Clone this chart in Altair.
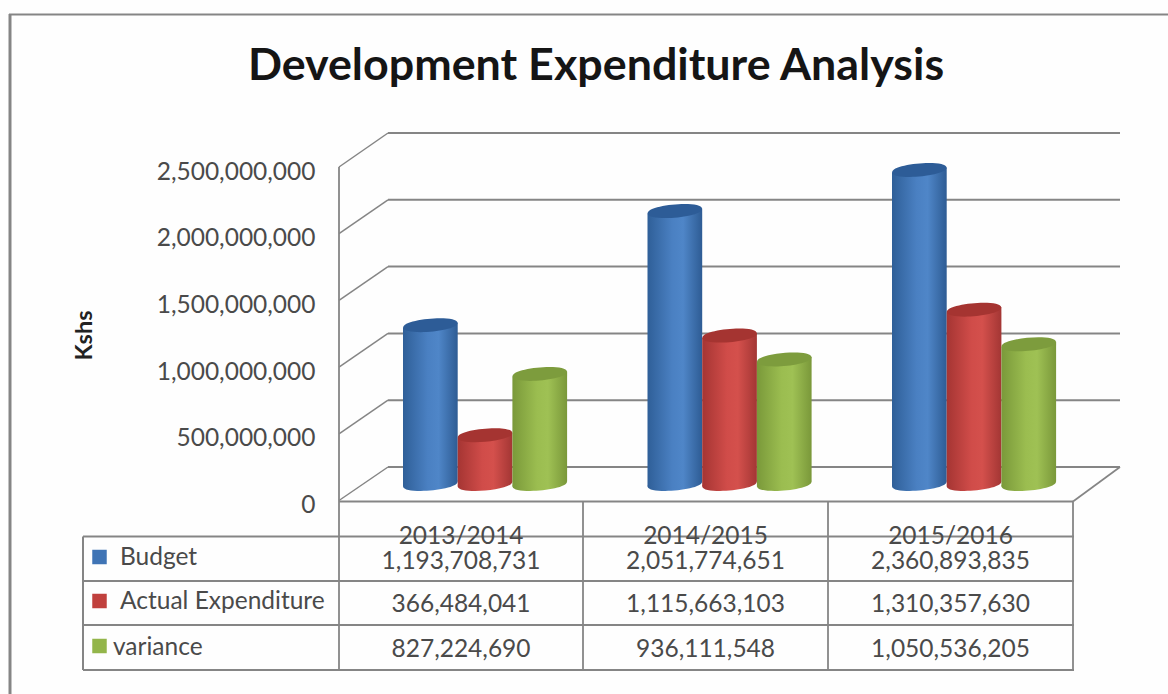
import altair as alt
import pandas as pd

# Chart values
years = ["2013/2014", "2014/2015", "2015/2016"]
series_names = ["Budget", "Actual Expenditure", "variance"]
budget = [1193708731, 2051774651, 2360893835]
actual = [366484041, 1115663103, 1310357630]
variance = [827224690, 936111548, 1050536205]
axis_ticks = [0, 500000000, 1000000000, 1500000000, 2000000000, 2500000000]

W, H = 1168, 694
FONT = "Lato"
TEXT = "#4a4a4a"
LINE = "#858585"

series_values = [budget, actual, variance]
series_body = [
    ["#2f5f98", "#4a80c2", "#4f86c8", "#2e5c94"],
    ["#a53533", "#d04c49", "#d4504c", "#a33634"],
    ["#7a993a", "#9bbd50", "#9fc154", "#7a983a"],
]
series_cap = ["#2d5c97", "#a53431", "#7d9c3d"]
series_swatch = ["#3f74b5", "#c0403d", "#93b54a"]

# Value scales: the cylinders stand mid-depth, the axis sits on the front plane
PX_PER_UNIT = 0.1330e-6
BAR_BASE = 484.0
AXIS_BASE = 500.5
AXIS_PX_PER_UNIT = 333.5 / 2.5e9


def value_scale(base, k):
    return alt.Scale(domain=[(base - H) / k, base / k], range=[H, 0], nice=False, zero=False)


bar_scale = value_scale(BAR_BASE, PX_PER_UNIT)
axis_scale = value_scale(AXIS_BASE, AXIS_PX_PER_UNIT)
x_scale = alt.Scale(domain=[0, W], range=[0, W], nice=False, zero=False)
X_NOAXIS = dict(scale=x_scale, axis=None)

# Cylinder geometry
GROUP_LEFT = [403.0, 647.5, 892.0]
CYL_W = 54.7
TILT_PX = 2.5
tilt_v = TILT_PX / PX_PER_UNIT

# Ellipse as a unit-wide custom symbol
ELLIPSE = "M-1,0C-1,-0.32,1,-0.32,1,0C1,0.32,-1,0.32,-1,0Z"
ELLIPSE_SIZE = (CYL_W) ** 2
ELLIPSE_ANGLE = 355

layers = []

# Outer frame, wall, floor and table rules
rules = []
rules += [(9, 14.5, W, 14.5, 2.2), (10, 14, 10, H, 3)]
wall_ys = [467, 400.2, 333.4, 266.6, 199.8, 133]
front_ys = [AXIS_BASE - AXIS_PX_PER_UNIT * t for t in axis_ticks]
for wy, fy in zip(wall_ys, front_ys):
    rules.append((388, wy, 1120, wy, 2))
    rules.append((339, fy, 388, wy, 1.5))
rules += [(339, front_ys[-1], 339, 670, 1.8)]
rules += [(339, 501.5, 1073, 501.5, 2.2), (1073, 501.5, 1120, 467, 1.7)]
for cx in [583, 828, 1073]:
    rules.append((cx, 501.5, cx, 670, 1.8))
for ry in [536.5, 581, 625, 670]:
    rules.append((83, ry, 1074, ry, 2))
rules.append((83, 536.5, 83, 670, 2))
rules_df = pd.DataFrame(rules, columns=["x1", "y1", "x2", "y2", "w"])

layers.append(
    alt.Chart(rules_df).mark_rule(color=LINE).encode(
        x=alt.X("x1:Q", **X_NOAXIS),
        x2="x2:Q",
        y=alt.Y("y1:Q", scale=None, axis=None),
        y2="y2:Q",
        strokeWidth=alt.StrokeWidth("w:Q", scale=None, legend=None),
    )
)

# Invisible layer that carries the value axis
layers.append(
    alt.Chart(pd.DataFrame({"tick": axis_ticks})).mark_point(opacity=0).encode(
        y=alt.Y(
            "tick:Q",
            scale=axis_scale,
            axis=alt.Axis(
                values=axis_ticks,
                format=",.0f",
                offset=-339,
                labelPadding=24,
                labelOffset=5,
                labelFont=FONT,
                labelFontSize=24.5,
                labelColor=TEXT,
                domain=False,
                ticks=False,
                grid=False,
                title="Kshs",
                titleFont=FONT,
                titleFontSize=23.5,
                titleFontWeight="bold",
                titleColor="#222222",
                titleX=-243,
                titleY=335,
            ),
        ),
    )
)

# Cylinders, series by series
for j, name in enumerate(series_names):
    stops = [
        {"offset": o, "color": c}
        for o, c in zip([0, 0.45, 0.65, 1], series_body[j])
    ]
    gradient = {"gradient": "linear", "x1": 0, "y1": 0, "x2": 1, "y2": 0, "stops": stops}

    centers = [g + CYL_W * j + CYL_W / 2 for g in GROUP_LEFT]
    caps = pd.DataFrame({"year": years, "cx": centers, "value": series_values[j], "zero": 0})

    side_rows = []
    for year, left, v in zip(years, GROUP_LEFT, series_values[j]):
        lx = left + CYL_W * j
        side_rows.append((year, lx, v - tilt_v, -tilt_v))
        side_rows.append((year, lx + CYL_W, v + tilt_v, tilt_v))
    sides = pd.DataFrame(side_rows, columns=["year", "px", "top", "bottom"])

    layers.append(
        alt.Chart(caps).mark_point(
            shape=ELLIPSE, size=ELLIPSE_SIZE, angle=ELLIPSE_ANGLE, filled=True, fill=gradient,
            strokeWidth=0, opacity=1,
        ).encode(
            x=alt.X("cx:Q", **X_NOAXIS),
            y=alt.Y("zero:Q", scale=bar_scale, axis=None),
        )
    )
    layers.append(
        alt.Chart(sides).mark_area(fill=gradient, strokeWidth=0, opacity=1).encode(
            x=alt.X("px:Q", **X_NOAXIS),
            y=alt.Y("top:Q", scale=bar_scale, axis=None),
            y2="bottom:Q",
            detail="year:N",
        )
    )
    layers.append(
        alt.Chart(caps).mark_point(
            shape=ELLIPSE, size=ELLIPSE_SIZE, angle=ELLIPSE_ANGLE, filled=True, fill=series_cap[j],
            strokeWidth=0, opacity=1,
        ).encode(
            x=alt.X("cx:Q", **X_NOAXIS),
            y=alt.Y("value:Q", scale=bar_scale, axis=None),
        )
    )

# Data table
COL_CENTERS = [461, 705.5, 950.5]
ROW_Y = [562, 605, 650]
cells = []
for cx, year in zip(COL_CENTERS, years):
    cells.append((cx, 536.5, year))
for ry, vals in zip(ROW_Y, series_values):
    for cx, v in zip(COL_CENTERS, vals):
        cells.append((cx, ry, f"{v:,}"))
cells_df = pd.DataFrame(cells, columns=["px", "py", "label"])
layers.append(
    alt.Chart(cells_df).mark_text(font=FONT, fontSize=24.5, color=TEXT, align="center", baseline="middle").encode(
        x=alt.X("px:Q", **X_NOAXIS),
        y=alt.Y("py:Q", scale=None, axis=None),
        text="label:N",
    )
)

legend_df = pd.DataFrame({
    "name": series_names,
    "tx": [120, 120, 113],
    "ty": [558, 602, 648],
    "sy": [557, 601, 646],
    "swatch": series_swatch,
})
layers.append(
    alt.Chart(legend_df).mark_point(shape="square", filled=True, size=210, opacity=1).encode(
        x=alt.X("sx:Q", **X_NOAXIS),
        y=alt.Y("sy:Q", scale=None, axis=None),
        fill=alt.Fill("swatch:N", scale=None, legend=None),
    ).transform_calculate(sx="99.5")
)
layers.append(
    alt.Chart(legend_df).mark_text(font=FONT, fontSize=24.5, color=TEXT, align="left", baseline="middle").encode(
        x=alt.X("tx:Q", **X_NOAXIS),
        y=alt.Y("ty:Q", scale=None, axis=None),
        text="name:N",
    )
)

chart = (
    alt.layer(*layers)
    .resolve_scale(y="independent")
    .properties(
        width=W,
        height=H,
        padding=0,
        autosize=alt.AutoSizeParams(type="none"),
        background="#fefefe",
        title=alt.TitleParams(
            text="Development Expenditure Analysis",
            font=FONT,
            fontSize=44.8,
            fontWeight="bold",
            color="#151515",
            anchor="middle",
            dx=12,
            dy=94,
        ),
    )
    .configure_view(stroke=None)
)

chart.save("out.html", embed_options={"renderer": "svg", "actions": False})
